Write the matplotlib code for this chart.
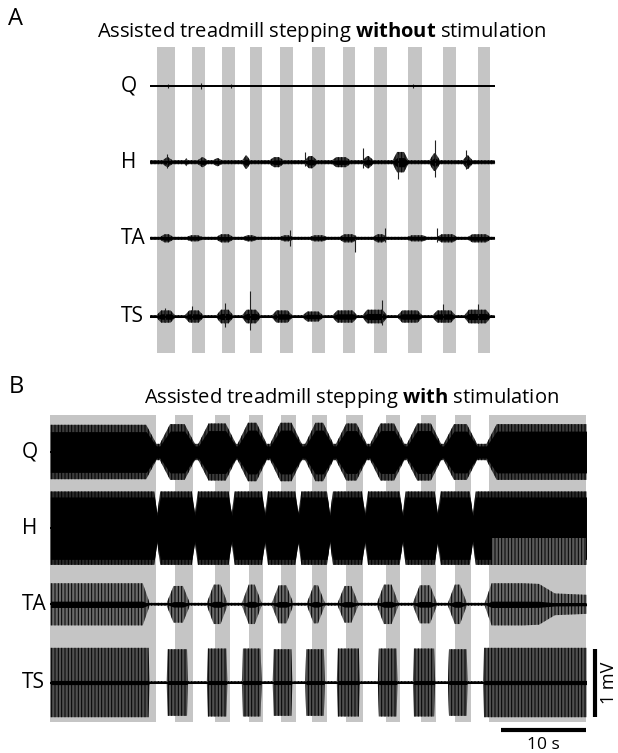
import numpy as np
import matplotlib.pyplot as plt

plt.rcParams['font.family'] = ['Open Sans', 'DejaVu Sans']
plt.rcParams['mathtext.fontset'] = 'custom'
plt.rcParams['mathtext.rm'] = 'Open Sans'
plt.rcParams['mathtext.bf'] = 'Open Sans:bold'
plt.rcParams['hatch.linewidth'] = 0.7

# ---- data (seconds, mV) ----
channels = ['Q', 'H', 'TA', 'TS']
offsets = [0.0, -1.12, -2.24, -3.39]  # baseline of each trace

# A: assisted treadmill stepping without stimulation
a_duration = 40.3
a_stance = [(0.8, 2.9), (4.9, 6.4), (8.4, 9.9), (11.7, 13.1), (15.2, 16.7), (19.0, 20.5),
            (22.6, 24.0), (26.2, 27.7), (30.2, 31.8), (34.3, 35.8), (38.4, 39.8)]
a_base = [0.015, 0.03, 0.022, 0.022]
a_q_bursts = []
a_h_bursts = [(1.5, 2.6, 0.074), (4.1, 4.4, 0.06), (5.6, 6.7, 0.074), (7.4, 8.4, 0.06),
              (10.8, 11.7, 0.10), (14.0, 15.6, 0.074), (18.1, 19.5, 0.09), (21.3, 23.4, 0.074),
              (24.9, 26.1, 0.09), (28.4, 30.2, 0.15), (32.7, 33.9, 0.13), (36.6, 37.7, 0.10)]
a_ta_bursts = [(1.2, 2.7, 0.06), (4.3, 6.1, 0.045), (7.8, 9.7, 0.06), (10.9, 12.5, 0.045),
               (15.2, 16.7, 0.045), (18.7, 20.7, 0.045), (22.2, 24.2, 0.06), (26.1, 27.7, 0.06),
               (30.1, 32.4, 0.045), (33.6, 35.9, 0.06), (37.2, 39.8, 0.06)]
a_ts_bursts = [(0.8, 2.9, 0.09), (4.1, 6.2, 0.09), (7.8, 9.7, 0.10), (10.8, 12.9, 0.10),
               (14.3, 16.6, 0.09), (17.9, 20.2, 0.074), (21.4, 24.2, 0.09), (24.9, 27.7, 0.10),
               (29.0, 31.8, 0.09), (33.1, 35.7, 0.09), (36.8, 39.8, 0.10)]
# spikes: (time, up, down)
a_q_spikes = [(2.1, 0.035, 0.035), (6.0, 0.04, 0.04), (9.5, 0.03, 0.03), (30.8, 0.035, 0.035)]
a_h_spikes = [(2.0, 0.12, 0.08), (18.1, 0.15, 0.06), (24.9, 0.21, 0.08), (29.0, 0.12, 0.25),
              (33.3, 0.32, 0.22), (37.0, 0.18, 0.10)]
a_ta_spikes = [(16.4, 0.12, 0.12), (24.0, 0.05, 0.20), (27.5, 0.15, 0.06), (33.6, 0.15, 0.05)]
a_ts_spikes = [(1.8, 0.12, 0.08), (4.9, 0.15, 0.06), (8.8, 0.20, 0.15), (11.7, 0.37, 0.20),
               (14.9, 0.10, 0.05), (27.1, 0.25, 0.12), (34.3, 0.18, 0.08), (38.4, 0.18, 0.10)]

# B: assisted treadmill stepping with stimulation
b_duration = 62.7
b_stance = [(0.0, 12.4), (14.6, 16.7), (19.3, 21.0), (23.2, 24.9), (27.0, 28.7), (30.6, 32.4),
            (34.6, 36.6), (39.3, 40.9), (43.4, 45.1), (47.3, 49.2), (51.3, 62.7)]
b_base = [0.12, 0.22, 0.022, 0.022]
b_q_bursts = [(0.0, 12.4, 0.40), (12.8, 16.9, 0.41), (17.3, 21.7, 0.42), (21.9, 25.3, 0.43),
              (25.7, 29.4, 0.43), (29.8, 33.1, 0.43), (33.4, 37.0, 0.42), (37.4, 41.4, 0.42),
              (41.7, 45.7, 0.42), (46.0, 49.9, 0.41), (51.0, 62.7, 0.41)]
b_h_bursts = [(0.0, 12.5, 0.54), (12.5, 16.9, 0.54), (16.9, 21.2, 0.54), (21.2, 25.1, 0.54),
              (25.1, 29.0, 0.54), (29.0, 32.7, 0.54), (32.7, 36.8, 0.54), (36.8, 41.2, 0.54),
              (41.2, 45.3, 0.54), (45.3, 49.4, 0.54), (49.4, 62.7, 0.54)]
b_h_faded = (51.6, 62.7)  # lower half of H looks lighter here
b_ta_bursts = [(0.0, 11.6, 0.31), (13.6, 16.3, 0.27), (18.3, 20.7, 0.29), (22.4, 24.7, 0.29),
               (25.9, 28.4, 0.28), (30.0, 32.1, 0.28), (33.6, 36.0, 0.27), (38.2, 40.7, 0.29),
               (42.4, 45.2, 0.28), (46.5, 48.7, 0.29),
               (50.8, 62.7, [0.31, 0.31, 0.31, 0.30, 0.16, 0.15, 0.14])]
b_ts_bursts = [(0.0, 11.6, 0.51), (13.6, 16.1, 0.49), (18.3, 20.7, 0.50), (22.4, 24.7, 0.50),
               (26.0, 28.3, 0.49), (29.8, 32.1, 0.49), (33.5, 36.2, 0.50), (38.3, 40.6, 0.50),
               (42.4, 45.0, 0.50), (46.5, 48.8, 0.49), (50.6, 62.7, 0.51)]

scale_mv = 1.0
scale_s = 10.0

# ---- helpers ----
def envelope(bursts, base, ramp, t_end):
    t, a = [], []
    if not bursts or bursts[0][0] > 0:
        t.append(0.0); a.append(base)
    for on, off, amp in bursts:
        lv = np.atleast_1d(amp).astype(float)
        r = min(ramp, 0.45 * (off - on))
        t0 = on + r if on > 0 else on
        t1 = off - r if off < t_end else off
        if on > 0:
            t.append(on); a.append(base)
        t += list(np.linspace(t0, t1, len(lv))) if len(lv) > 1 else [t0, t1]
        a += list(lv) if len(lv) > 1 else [lv[0], lv[0]]
        if off < t_end:
            t.append(off); a.append(base)
    if t[-1] < t_end:
        t.append(t_end); a.append(base)
    return np.array(t), np.array(a)


def stance_bars(ax, stance, top, bottom):
    for on, off in stance:
        ax.bar(on, top - bottom, width=off - on, bottom=bottom, align='edge',
               color='#c5c5c5', lw=0, zorder=0)


def trace(ax, t, env, y0, fill, core, hatch):
    ax.fill_between(t, y0 - env, y0 + env, facecolor=fill, edgecolor='black',
                    hatch=hatch, lw=0, zorder=2)
    if core > 0:
        ax.fill_between(t, y0 - core * env, y0 + core * env, color='black', lw=0, zorder=3)


fig = plt.figure(figsize=(6.18, 7.53), dpi=100)

# panel A axes: 150 px -> 0 s, 8.55 px/s ; y 86 px -> 0 mV, 68 px/mV
axA = fig.add_axes([0, 383 / 753, 1, 370 / 753])
axA.set_xlim(-150 / 8.55, 468 / 8.55)
axA.set_ylim(-(370 - 86) / 68, 86 / 68)
axA.axis('off')

stance_bars(axA, a_stance, 0.57, -3.93)
a_bursts = [a_q_bursts, a_h_bursts, a_ta_bursts, a_ts_bursts]
a_spikes = [a_q_spikes, a_h_spikes, a_ta_spikes, a_ts_spikes]
for name, y0, base, bursts, spikes in zip(channels, offsets, a_base, a_bursts, a_spikes):
    t, env = envelope(bursts, base, 0.5, a_duration)
    trace(axA, t, env, y0, '#3a3a3a', 0.45, '|||||')
    st = np.array([s[0] for s in spikes]); up = np.array([s[1] for s in spikes])
    dn = np.array([s[2] for s in spikes])
    axA.vlines(st, y0 - dn, y0 + up, color='#222222', lw=0.8, zorder=4)
    axA.hlines(y0, 0, a_duration, color='black', lw=1.4, zorder=4)
    axA.text(-3.45, y0, name, ha='left', va='center', fontsize=15)

# panel B axes: 50.4 px -> 0 s ; y 452 px -> 0 mV
axB = fig.add_axes([0, 0, 1, 383 / 753])
axB.set_xlim(-50.4 / 8.55, (618 - 50.4) / 8.55)
axB.set_ylim(-(753 - 452) / 68, (452 - 370) / 68)
axB.axis('off')

stance_bars(axB, b_stance, 0.544, -3.97)
b_bursts = [b_q_bursts, b_h_bursts, b_ta_bursts, b_ts_bursts]
ramps = [1.2, 0.35, 0.8, 0.12]
fills = ['#3c3c3c', '#2a2a2a', '#6a6a6a', '#505050']
cores = [0.75, 0.85, 0.15, 0.06]
for name, y0, base, bursts, ramp, fc, cr in zip(channels, offsets, b_base, b_bursts,
                                                 ramps, fills, cores):
    t, env = envelope(bursts, base, ramp, b_duration)
    trace(axB, t, env, y0, fc, cr, '|||||')
    axB.hlines(y0, 0, b_duration, color='black', lw=1.4, zorder=4)
    axB.text(-3.3, y0, name, ha='left', va='center', fontsize=15)

# lighter lower half of H at the end of the recording
hy = offsets[1]
axB.fill_between(list(b_h_faded), [hy - 0.54] * 2, [hy - 0.14] * 2, facecolor='#5a5a5a',
                 edgecolor='black', hatch='|||||', lw=0, zorder=3.5)

# scale bars
xs = b_duration + 1.0
axB.plot([xs, xs], [offsets[3] + 0.49, offsets[3] + 0.49 - scale_mv], color='black', lw=3,
         solid_capstyle='butt')
axB.text(xs + 1.6, offsets[3] + 0.49 - scale_mv / 2, '1 mV', rotation=90, ha='center',
         va='center', fontsize=13)
axB.plot([b_duration - scale_s, b_duration], [-4.09, -4.09], color='black', lw=3,
         solid_capstyle='butt')
axB.text(b_duration - scale_s / 2, -4.37, '10 s', ha='center', va='baseline', fontsize=12.5)

# titles and panel letters
fig.text(16 / 618, 1 - 19 / 753, 'A', ha='center', va='center', fontsize=17)
fig.text(16 / 618, 1 - 387 / 753, 'B', ha='center', va='center', fontsize=17)
fig.text(322 / 618, 1 - 32 / 753, r'Assisted treadmill stepping $\mathbf{without}$ stimulation',
         ha='center', va='center', fontsize=14.5)
fig.text(351 / 618, 1 - 398 / 753, r'Assisted treadmill stepping $\mathbf{with}$ stimulation',
         ha='center', va='center', fontsize=14.5)

fig.savefig('out.png', dpi=100)
